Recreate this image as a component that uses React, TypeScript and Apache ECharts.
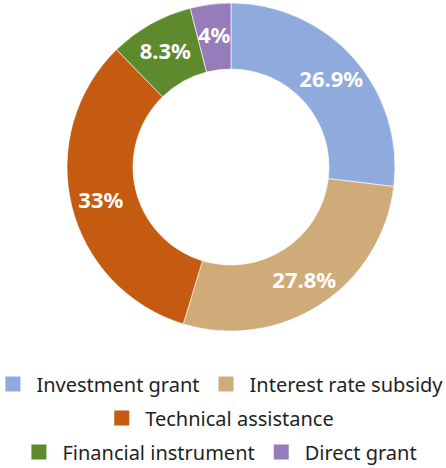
import React, { useEffect, useRef } from "react";
import * as echarts from "echarts";

const categories = [
  "Investment grant",
  "Interest rate subsidy",
  "Technical assistance",
  "Financial instrument",
  "Direct grant",
];
const shares = [26.9, 27.8, 33, 8.3, 4];
const colors = ["#8faadc", "#d0ab7a", "#c55a11", "#5e8a2e", "#977cbb"];
const legendRows = [
  ["Investment grant", "Interest rate subsidy"],
  ["Technical assistance"],
  ["Financial instrument", "Direct grant"],
];
const legendTops = [374, 408, 442];

export default function App() {
  const ref = useRef<HTMLDivElement>(null);
  useEffect(() => {
    document.body.style.margin = "0";
    const chart = echarts.init(ref.current!, undefined, { renderer: "svg" });
    chart.setOption({
      animation: false,
      color: colors,
      legend: legendRows.map((row, i) => ({
        data: row,
        top: legendTops[i],
        left: "center",
        width: 446,
        padding: 0,
        orient: "horizontal",
        icon: "rect",
        itemWidth: 17,
        itemHeight: 17,
        itemGap: 17,
        selectedMode: false,
        textStyle: {
          fontFamily: "Noto Sans",
          fontSize: 20,
          color: "#1f1f1f",
          padding: [0, 0, 0, 10],
        },
      })),
      series: [
        {
          type: "pie",
          center: [231, 167],
          radius: [98, 164],
          startAngle: 90,
          clockwise: true,
          avoidLabelOverlap: false,
          itemStyle: { borderColor: "#ffffff", borderWidth: 0.6 },
          label: {
            show: true,
            position: "inside",
            formatter: "{c}%",
            color: "#ffffff",
            fontFamily: "Noto Sans",
            fontWeight: "bold",
            fontSize: 22,
          },
          labelLine: { show: false },
          emphasis: { disabled: true },
          data: categories.map((name, i) => ({ name, value: shares[i] })),
        },
      ],
    });
    return () => chart.dispose();
  }, []);
  return <div ref={ref} style={{ width: 446, height: 468 }} />;
}
